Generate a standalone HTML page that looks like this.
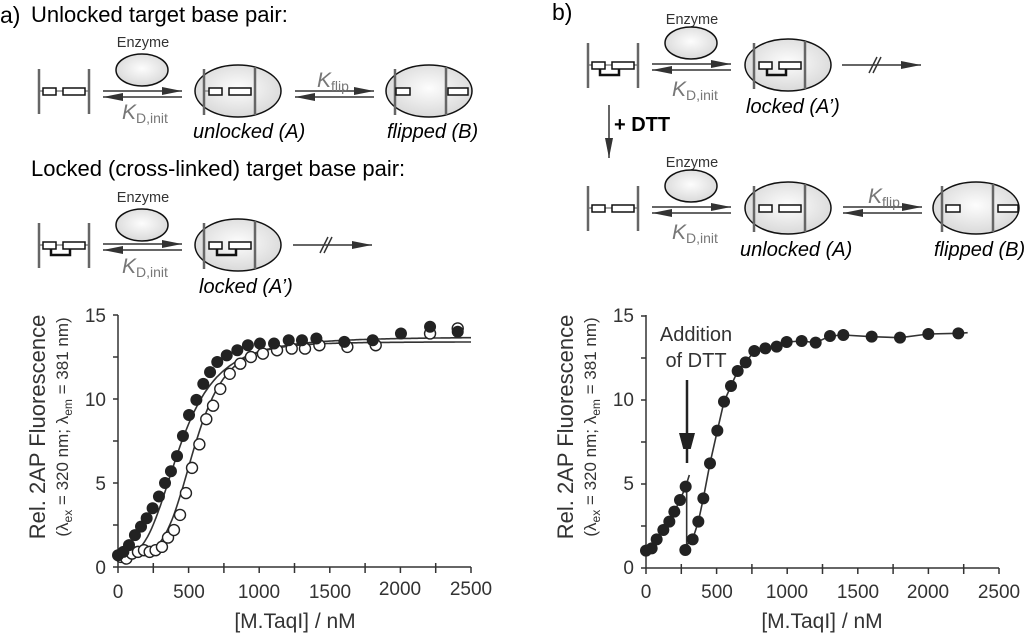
<!DOCTYPE html>
<html><head><meta charset="utf-8"><style>
html,body{margin:0;padding:0;background:#fff}
svg{display:block}
text{font-family:"Liberation Sans",Arial,sans-serif}
</style></head><body>
<svg id="s" width="1024" height="640" viewBox="0 0 1024 640" xmlns="http://www.w3.org/2000/svg">
<defs>
<radialGradient id="g" cx="50%" cy="45%" r="60%"><stop offset="0" stop-color="#fdfdfd"/><stop offset="1" stop-color="#d6d6d6"/></radialGradient>
<marker id="ah2" markerWidth="20" markerHeight="8" refX="20" refY="4" orient="auto" markerUnits="userSpaceOnUse"><path d="M0,0 L20,4 L0,8 z" fill="#333"/></marker>
<marker id="ah3" markerWidth="16" markerHeight="30" refX="30" refY="8" orient="auto" markerUnits="userSpaceOnUse"><path d="M0,0 L30,8 L0,16 z" fill="#222"/></marker>
<g id="eq"><line x1="0" y1="0" x2="79" y2="0" stroke="#333" stroke-width="1.5" marker-end="url(#ah2)"/><line x1="79" y1="6" x2="0" y2="6" stroke="#333" stroke-width="1.5" marker-end="url(#ah2)"/></g>
<g id="dna" stroke="#666" stroke-width="2.5"><line x1="0" y1="-22" x2="0" y2="23"/><line x1="50" y1="-22" x2="50" y2="23"/><line x1="0" y1="0" x2="4" y2="0" stroke-width="1.2"/><line x1="46" y1="0" x2="50" y2="0" stroke-width="1.2"/><line x1="17" y1="0" x2="24" y2="0" stroke-width="1.2"/></g>
<g id="bp"><rect x="4" y="-3" width="13" height="7" fill="#fff" stroke="#111" stroke-width="1.5"/><rect x="24" y="-3" width="22" height="7" fill="#fff" stroke="#111" stroke-width="1.5"/></g>
<g id="xl"><path d="M12,4 V10 H31 V4" fill="none" stroke="#111" stroke-width="2.5"/></g>
<g id="enz"><ellipse cx="0" cy="0" rx="26" ry="16" fill="url(#g)" stroke="#111" stroke-width="1.5"/></g>
<g id="cplx"><ellipse cx="0" cy="0" rx="43" ry="26" fill="url(#g)" stroke="#111" stroke-width="1.5"/><line x1="-34" y1="-22" x2="-34" y2="24" stroke="#666" stroke-width="2.5"/><line x1="17" y1="-24" x2="17" y2="24" stroke="#666" stroke-width="2.5"/></g>
<g id="blk"><line x1="0" y1="0" x2="79" y2="0" stroke="#333" stroke-width="1.5" marker-end="url(#ah2)"/><line x1="27" y1="8" x2="35" y2="-8" stroke="#333" stroke-width="1.5"/><line x1="31" y1="8" x2="39" y2="-8" stroke="#333" stroke-width="1.5"/></g>
</defs>

<text x="0" y="23" font-size="23">a)</text>
<text x="31" y="22" font-size="22">Unlocked target base pair:</text>
<use href="#dna" x="39" y="91"/><use href="#bp" x="39" y="91"/>
<text x="143" y="47" font-size="14.5" text-anchor="middle" fill="#333">Enzyme</text>
<use href="#enz" x="142" y="70"/>
<use href="#eq" x="103" y="91"/>
<text x="122" y="119" font-size="21" fill="#777" font-style="italic">K<tspan font-size="14" font-style="normal" dy="4">D,init</tspan></text>
<use href="#cplx" x="238" y="91"/>
<g transform="translate(205,91)"><line x1="0" y1="0" x2="4" y2="0" stroke="#666"/><use href="#bp"/></g>
<text x="193" y="138" font-size="20" font-style="italic">unlocked (A)</text>
<use href="#eq" x="295" y="91"/>
<text x="317" y="87" font-size="21" fill="#777" font-style="italic">K<tspan font-size="14" font-style="normal" dy="4">flip</tspan></text>
<use href="#cplx" x="429" y="91"/>
<rect x="396" y="88" width="14" height="7" fill="#fff" stroke="#111" stroke-width="1.5"/>
<rect x="448" y="88" width="20" height="7" fill="#fff" stroke="#111" stroke-width="1.5"/>
<text x="387" y="138" font-size="20" font-style="italic">flipped (B)</text>

<text x="31" y="176" font-size="22">Locked (cross-linked) target base pair:</text>
<use href="#dna" x="39" y="245"/><use href="#bp" x="39" y="245"/><use href="#xl" x="39" y="245"/>
<text x="143" y="202" font-size="14.5" text-anchor="middle" fill="#333">Enzyme</text>
<use href="#enz" x="142" y="225"/>
<use href="#eq" x="103" y="244"/>
<text x="122" y="273" font-size="21" fill="#777" font-style="italic">K<tspan font-size="14" font-style="normal" dy="4">D,init</tspan></text>
<use href="#cplx" x="238" y="245"/>
<g transform="translate(205,245)"><use href="#bp"/><use href="#xl"/></g>
<text x="199" y="293" font-size="20" font-style="italic">locked (A’)</text>
<use href="#blk" x="293" y="245"/>

<text x="552" y="20" font-size="23">b)</text>
<use href="#dna" x="588" y="65"/><use href="#bp" x="588" y="65"/><use href="#xl" x="588" y="65"/>
<text x="692" y="24" font-size="14.5" text-anchor="middle" fill="#333">Enzyme</text>
<use href="#enz" x="691" y="43"/>
<use href="#eq" x="652" y="64"/>
<text x="672" y="96" font-size="21" fill="#777" font-style="italic">K<tspan font-size="14" font-style="normal" dy="4">D,init</tspan></text>
<use href="#cplx" x="788" y="65"/>
<g transform="translate(755,65)"><use href="#bp"/><use href="#xl"/></g>
<text x="746" y="113" font-size="20" font-style="italic">locked (A’)</text>
<use href="#blk" x="842" y="65"/>
<line x1="609" y1="105" x2="609" y2="158" stroke="#333" stroke-width="1.5" marker-end="url(#ah2)"/>
<text x="614" y="131" font-size="20" font-weight="bold">+ DTT</text>

<use href="#dna" x="588" y="208"/><use href="#bp" x="588" y="208"/>
<text x="692" y="167" font-size="14.5" text-anchor="middle" fill="#333">Enzyme</text>
<use href="#enz" x="691" y="186"/>
<use href="#eq" x="652" y="207"/>
<text x="672" y="239" font-size="21" fill="#777" font-style="italic">K<tspan font-size="14" font-style="normal" dy="4">D,init</tspan></text>
<use href="#cplx" x="788" y="208"/>
<g transform="translate(755,208)"><use href="#bp"/></g>
<text x="740" y="256" font-size="20" font-style="italic">unlocked (A)</text>
<use href="#eq" x="843" y="207"/>
<text x="868" y="203" font-size="21" fill="#777" font-style="italic">K<tspan font-size="14" font-style="normal" dy="4">flip</tspan></text>
<use href="#cplx" x="976" y="208"/>
<rect x="946" y="205" width="14" height="7" fill="#fff" stroke="#111" stroke-width="1.5"/>
<rect x="998" y="205" width="20" height="7" fill="#fff" stroke="#111" stroke-width="1.5"/>
<text x="934" y="256" font-size="20" font-style="italic">flipped (B)</text>

<text transform="translate(45,427) rotate(-90)" font-size="22" text-anchor="middle" fill="#333">Rel. 2AP Fluorescence</text>
<text transform="translate(68,427) rotate(-90)" font-size="17" text-anchor="middle" fill="#333">(λ<tspan font-size="12" dy="4">ex</tspan><tspan dy="-4"> = 320 nm; λ</tspan><tspan font-size="12" dy="4">em</tspan><tspan dy="-4"> = 381 nm)</tspan></text>
<text x="295" y="628" font-size="21" text-anchor="middle" fill="#333">[M.TaqI] / nM</text>
<text transform="translate(573,427) rotate(-90)" font-size="22" text-anchor="middle" fill="#333">Rel. 2AP Fluorescence</text>
<text transform="translate(596,427) rotate(-90)" font-size="17" text-anchor="middle" fill="#333">(λ<tspan font-size="12" dy="4">ex</tspan><tspan dy="-4"> = 320 nm; λ</tspan><tspan font-size="12" dy="4">em</tspan><tspan dy="-4"> = 381 nm)</tspan></text>
<text x="822" y="628" font-size="21" text-anchor="middle" fill="#333">[M.TaqI] / nM</text>

<g font-size="19" fill="#333">
<text x="106" y="322" text-anchor="end">15</text><text x="106" y="406" text-anchor="end">10</text><text x="106" y="490" text-anchor="end">5</text><text x="106" y="574" text-anchor="end">0</text>
<text x="118" y="598" text-anchor="middle">0</text><text x="189" y="598" text-anchor="middle">500</text><text x="259" y="598" text-anchor="middle">1000</text><text x="330" y="598" text-anchor="middle">1500</text><text x="400" y="595" text-anchor="middle">2000</text><text x="471" y="595" text-anchor="middle">2500</text>
<text x="634" y="322" text-anchor="end">15</text><text x="634" y="406" text-anchor="end">10</text><text x="634" y="490" text-anchor="end">5</text><text x="634" y="574" text-anchor="end">0</text>
<text x="646" y="598" text-anchor="middle">0</text><text x="717" y="598" text-anchor="middle">500</text><text x="787" y="598" text-anchor="middle">1000</text><text x="858" y="598" text-anchor="middle">1500</text><text x="928" y="598" text-anchor="middle">2000</text><text x="999" y="598" text-anchor="middle">2500</text>
</g>
<text x="696" y="341" font-size="20" text-anchor="middle" fill="#333">Addition</text>
<text x="696" y="367" font-size="20" text-anchor="middle" fill="#333">of DTT</text>
<line x1="687" y1="380" x2="687" y2="463" stroke="#222" stroke-width="2.5" marker-end="url(#ah3)"/>
<g id="plots"></g>
</svg>
<script>
const NS="http://www.w3.org/2000/svg",P=document.getElementById('plots');
function el(t,a){const e=document.createElementNS(NS,t);for(const k in a)e.setAttribute(k,a[k]);P.appendChild(e);return e;}
function axes(x0,y0){
 el('path',{d:`M${x0},315 V${y0} H${x0+353}`,fill:'none',stroke:'#333','stroke-width':1.5});
 for(let v=0;v<=15;v+=2.5){const y=y0-v*16.8;el('line',{x1:x0-5,y1:y,x2:x0,y2:y,stroke:'#333','stroke-width':1.5});}
 for(let n=0;n<=2500;n+=250){const x=x0+n*0.1412;el('line',{x1:x,y1:n%500?y0-4:y0,x2:x,y2:y0+6,stroke:'#333','stroke-width':1.5});}
}
axes(118,567);axes(646,568);
function X(x0,n){return x0+n*0.1412}
function curve(x0,y0,b,A,K,nn){let d='';for(let n=0;n<=2500;n+=10){const v=b+A*Math.pow(n,nn)/(Math.pow(K,nn)+Math.pow(n,nn));d+=(n?'L':'M')+X(x0,n).toFixed(1)+','+(y0-v*16.8).toFixed(1);}el('path',{d,fill:'none',stroke:'#333','stroke-width':1.6});}
curve(118,567,0.7,13.0,440,3.2);curve(118,567,0.8,12.6,540,4.8);
const xs=[0,38,78,120,163,203,245,290,333,375,418,460,503,555,604,652,703,770,845,920,1005,1105,1209,1303,1405,1603,1804,2004,2210,2406];
const fv=[0.7,0.9,1.3,1.9,2.4,2.9,3.5,4.2,5.0,5.7,6.6,7.8,9.05,9.95,10.9,11.6,12.2,12.6,12.9,13.2,13.3,13.3,13.5,13.5,13.6,13.4,13.5,13.9,14.3,14.0];
const ov=[0.6,0.5,0.8,0.9,1.0,0.9,1.0,1.2,1.75,2.2,3.1,4.4,5.9,7.3,8.8,9.6,10.6,11.5,12.1,12.5,12.7,12.9,13.0,13.0,13.2,13.1,13.2,null,13.9,14.2];
xs.forEach((n,i)=>{if(ov[i]!=null)el('circle',{cx:X(118,n)+(i<27?3:0),cy:567-ov[i]*16.8,r:5.5,fill:'#fff',stroke:'#222','stroke-width':1.4});});
xs.forEach((n,i)=>{el('circle',{cx:X(118,n),cy:567-fv[i]*16.8,r:6,fill:'#222'});});
const bz=[[348,752],[365,745],[380,718],[400,690],[418,665],[433,635],[450,600],[467,560]];
const bz2=[[466,750],[488,718],[505,665],[520,595],[540,490],[562,392],[582,305],[603,258],[623,213],[647,187],[673,153],[706,145],[740,140],[770,126],[815,123],[857,128],[900,108],[940,105],[1025,110],[1110,113],[1195,102],[1285,100]];
const tp=p=>[530+p[0]/3,300+p[1]/3];
let d1=bz.map((p,i)=>(i?'L':'M')+tp(p).join(',')).join('')+'L'+tp([478,525]).join(',');
el('path',{d:d1,fill:'none',stroke:'#333','stroke-width':1.6});
el('line',{x1:530+470/3,y1:300+565/3,x2:530+470/3,y2:300+740/3,stroke:'#333','stroke-width':1.6});
let d2='M'+tp([470,735]).join(',')+bz2.slice(1).map(p=>'L'+tp(p).join(',')).join('')+'L'+tp([1313,98]).join(',');
el('path',{d:d2,fill:'none',stroke:'#333','stroke-width':1.6});
bz.concat(bz2).forEach(p=>{const q=tp(p);el('circle',{cx:q[0],cy:q[1],r:6,fill:'#222'});});
</script>
</body></html>
